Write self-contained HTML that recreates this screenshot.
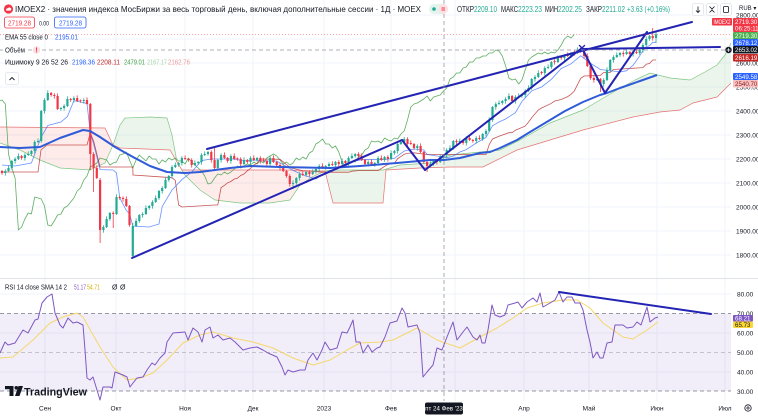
<!DOCTYPE html>
<html><head><meta charset="utf-8"><style>
html,body{margin:0;padding:0;background:#fff;overflow:hidden}
svg{display:block}
text{font-family:"Liberation Sans","DejaVu Sans",sans-serif}
</style></head><body>
<svg xmlns="http://www.w3.org/2000/svg" width="758" height="417" viewBox="0 0 758 417">
<defs><clipPath id="mc"><rect x="0" y="0" width="731" height="278"/></clipPath></defs>
<rect width="758" height="417" fill="#fff"/>
<!-- grid -->
<g stroke="#f0f3fa" stroke-width="1">
<line x1="0" x2="731" y1="15" y2="15"/><line x1="0" x2="731" y1="39" y2="39"/><line x1="0" x2="731" y1="63" y2="63"/><line x1="0" x2="731" y1="87" y2="87"/><line x1="0" x2="731" y1="111" y2="111"/><line x1="0" x2="731" y1="135" y2="135"/><line x1="0" x2="731" y1="159" y2="159"/><line x1="0" x2="731" y1="183" y2="183"/><line x1="0" x2="731" y1="207" y2="207"/><line x1="0" x2="731" y1="231" y2="231"/><line x1="0" x2="731" y1="255" y2="255"/>
<line x1="0" x2="731" y1="294" y2="294"/><line x1="0" x2="731" y1="333" y2="333"/><line x1="0" x2="731" y1="372" y2="372"/>
<line x1="45" x2="45" y1="0" y2="401"/><line x1="116" x2="116" y1="0" y2="401"/><line x1="185" x2="185" y1="0" y2="401"/><line x1="253" x2="253" y1="0" y2="401"/><line x1="324" x2="324" y1="0" y2="401"/><line x1="391" x2="391" y1="0" y2="401"/><line x1="455" x2="455" y1="0" y2="401"/><line x1="524" x2="524" y1="0" y2="401"/><line x1="589" x2="589" y1="0" y2="401"/><line x1="657" x2="657" y1="0" y2="401"/><line x1="725" x2="725" y1="0" y2="401"/>
</g>
<line x1="0" x2="758" y1="278.5" y2="278.5" stroke="#e0e3eb" stroke-width="1"/>

<g clip-path="url(#mc)">
<!-- cloud fills -->
<polygon fill="#f44336" fill-opacity="0.1" points="0,127 105,128 113,145 105,163 90,170 60,168 40,160 20,150 0,143"/>
<polygon fill="#43a047" fill-opacity="0.1" points="113,145 120,125 125,118 150,117 167,118 172,135 177,162 170,150 120,148"/>
<polygon fill="#f44336" fill-opacity="0.1" points="177,162 182,170 290,170 300,171 325,171 312,177 300,185 290,200 270,203 240,203 215,200 200,190 185,175"/>
<polygon fill="#43a047" fill-opacity="0.1" points="325,171 333,170 383,170 400,165 430,163 450,155 480,152 500,150 520,140 550,123 583,110 600,100 617,90 635,80 650,73 670,78 690,80 705,72 717,65 725,55 731,43 731,83 717,97 693,103 680,110 660,112 633,117 583,130 550,140 517,150 483,167 450,167 420,168 386,170 383,203 333,203"/>
<polyline fill="none" stroke="#81c784" stroke-width="0.7" points="0,143 20,150 40,160 60,168 90,170 105,163 113,145 120,125 125,118 150,117 167,118 172,135 177,162 185,175 200,190 215,200 240,203 270,203 290,200 300,185 312,177 325,171 333,170 383,170 400,165 430,163 450,155 480,152 500,150 520,140 550,123 583,110 600,100 617,90 635,80 650,73 670,78 690,80 705,72 717,65 725,55 731,43"/>
<polyline fill="none" stroke="#e57373" stroke-width="0.7" points="0,127 105,128 113,145 120,148 170,150 177,162 182,170 290,170 300,171 325,171 333,203 383,203 386,170 420,168 450,167 483,167 517,150 550,140 583,130 633,117 660,112 680,110 693,103 717,97 731,83"/>
<!-- chikou -->
<polyline fill="none" stroke="#43a047" stroke-width="0.8" stroke-opacity="0.85" stroke-linejoin="round" points="-1.3,101 2,100 5.3,104 8.5,154 11.8,168 15.1,178 18.4,230 21.6,227 24.9,219 28.2,213 31.4,214 34.7,197 38,198 41.2,199 44.5,206 47.8,225 51.1,226 54.3,221 57.6,215 60.9,214 64.1,208 67.4,206 70.7,202 73.9,198 77.2,191 80.5,188 83.8,180 87,176 90.3,167 93.6,165 96.8,163 100.1,158 103.4,159 106.6,160 109.9,165 113.2,163 116.5,162 119.7,155 123,154 126.3,152 129.5,160 132.8,168 136.1,160 139.3,155 142.6,158 145.9,161 149.2,156 152.4,159 155.7,159 159,164 162.2,160 165.5,162 168.8,158 172,160 175.3,158 178.6,161 181.9,161 185.1,164 188.4,158 191.7,162 194.9,165 198.2,168 201.5,171 204.7,176 208,184 211.3,183 214.6,178 217.8,174 221.1,175 224.4,172 227.6,174 230.9,172 234.2,169 237.4,166 240.7,168 244,166 247.3,164 250.5,165 253.8,162 257.1,164 260.3,161 263.6,163 266.9,158 270.1,156 273.4,154 276.7,156 280,160 283.2,164 286.5,162 289.8,165 293,163 296.3,158 299.6,160 302.8,157 306.1,159 309.4,153 312.7,151 315.9,144 319.2,142 322.5,139 325.7,144 329,144 332.3,148 335.5,146 338.8,152 342.1,162 345.4,166 348.6,164 351.9,161 355.2,162 358.4,157 361.7,155 365,150 368.2,148 371.5,141 374.8,142 378.1,141 381.3,143 384.6,138 387.9,140 391.1,141 394.4,138 397.7,139 400.9,134 404.2,131 407.5,120 410.8,107 414,104 417.3,103 420.6,101 423.8,99 427.1,96 430.4,101 433.6,97 436.9,96 440.2,95 443.5,91 446.7,88 450,79 453.3,77 456.5,73 459.8,73 463.1,68 466.3,67 469.6,62 472.9,62 476.2,58 479.4,58 482.7,56 486,56 489.2,53 492.5,53 495.8,50 499,51 502.3,56 505.6,66 508.9,78 512.1,80 515.4,79 518.7,84 521.9,80 525.2,70 528.5,60 531.7,57 535,55 538.3,53 541.6,54 544.8,52 548.1,54 551.4,52 554.6,53 557.9,50 561.2,45 564.4,39 567.7,36 571,38 574.3,34.4"/>
<!-- kijun -->
<polyline fill="none" stroke="#b71c1c" stroke-width="0.8" stroke-opacity="0.75" points="2,172 38,172 41,150 47,145 87,145 90.3,133 93.6,141 100.1,167 132.8,167 133,175 172,177.7 175.3,180.5 178.6,205 181.9,207 214.6,205 217.8,205 221.1,187.5 224.4,185.4 227.6,182.8 230.9,181.5 234.2,179 237.4,178.3 240.7,175.5 244,174 247.3,170.8 250.5,168.5 253.8,165 257.1,163.3 260.3,159 280,159.3 289.8,167.3 293,168.5 302.8,170.7 312.7,171.2 322.5,172.2 348.6,172.2 351.9,171.2 358.4,170.6 378.1,170.6 381.3,168.5 384.6,166.4 387.9,164.5 391.1,163.6 394.4,163.4 397.7,158.6 400.9,156.6 404.2,154.3 407.5,153.4 414,152.8 427.1,154.5 486,154.5 489.2,144.7 492.5,139 499,136.2 508.9,132.7 512.1,132.7 515.4,130.2 525.2,126.1 528.5,122.1 531.7,117.8 538.3,110 541.6,108 551.4,103.3 554.6,101 561.2,99.5 567.7,96.6 571,94.3 574.3,91.1 577.5,84.6 580.8,78.3 584.1,76 600.4,75.3 603.7,72.5 610.2,72.3 613.5,69.5 642.9,67.6 646.2,64.2 649.5,63.5 652.7,60 656,60"/>
<!-- tenkan -->
<polyline fill="none" stroke="#2962ff" stroke-width="0.8" stroke-opacity="0.7" points="2,165 15,166 31.4,163 41.2,137 47.8,125.5 60.9,122 67.4,116.6 73.9,100.6 80.5,102 87,103.5 90.3,133 93.6,144 100.1,169.6 113.2,170 116.5,173 119.7,197.6 126.3,210.5 129.5,213.5 132.8,226 149.2,227 159,224 162.2,206.6 172,190 181.9,179.6 191.7,172 201.5,160.6 211.3,159 234.2,159 244,161 253.8,160 263.6,161 276.7,161 286.5,166.6 296.3,172 306.1,176 315.9,179 325.7,172.4 335.5,168.8 345.4,165.8 355.2,160.8 365,159.4 384.6,159.5 394.4,158.4 404.2,151 414,149 423.8,150 427.1,154.5 436.9,156 446.7,157.7 453.3,156 459.8,152 466.3,149.6 476.2,143 486,137.4 492.5,125.8 499,122 505.6,119 515.4,112.7 521.9,101.5 531.7,90.8 541.6,87 551.4,79.3 561.2,68.5 571,63.8 580.8,55.8 590.6,63.4 600.4,69.5 610.2,70.6 620,72 626.6,70.7 629.8,68 633.1,65.2 636.4,60.6 639.7,55.8 642.9,50.6 646.2,46.6 649.5,45.8 652.7,42.3 656,42.3"/>

<!-- candles: green -->
<path fill="none" stroke="#22ab94" stroke-width="0.8" d="M5.3 169.2V175.6M8.5 165.4V172M11.8 160V169.8M15.1 157.2V163.6M18.4 153.4V160M24.9 153.2V160.6M28.2 151.4V156M31.4 150V155.8M34.7 140.2V153.6M38 138.4V143M41.2 110V142.8M44.5 98.2V113.6M47.8 90.4V101M60.9 107V110.8M64.1 104.2V110.6M67.4 96.4V107M73.9 96.2V102.6M83.8 98.2V103.6M103.4 225.2V232.6M106.6 216.4V228M109.9 212V220.8M116.5 194.4V215M132.8 223V258M136.1 218.4V227M139.3 214V222.8M142.6 212.2V217.6M145.9 205.4V215M149.2 205V209.8M152.4 200.2V208.6M155.7 195.4V203M159 190V199.8M162.2 186.2V193.6M165.5 177.4V189M168.8 175V181.8M172 165.2V178.6M175.3 162.4V168M178.6 162V166.8M181.9 156.2V165.6M194.9 160.4V166M198.2 161V164.8M201.5 153.2V164.6M204.7 151.4V156M208 151V155.8M217.8 159V169.8M221.1 153.2V162.6M230.9 154.2V163.6M244 157.4V165M250.5 156.2V164.6M257.1 157V161.8M270.1 156.2V166.6M293 180.4V189M296.3 177V184.8M299.6 172.2V180.6M306.1 171V176.8M312.7 169.4V175M315.9 168V173.8M319.2 164.2V171.6M325.7 165V169.8M329 162.2V168.6M335.5 161V166.8M342.1 158.4V165M348.6 156.2V165.6M351.9 153.4V159M355.2 153V157.8M368.2 160.2V166.6M374.8 162V166.8M378.1 156.2V165.6M384.6 156V161.8M391.1 150.4V160M394.4 150V154.8M397.7 142.2V153.6M400.9 139.4V145M404.2 137V143.8M417.3 144.2V150.6M430.4 161.4V167M433.6 160V165.8M440.2 154.4V163M443.5 154V158.8M446.7 148.2V157.6M450 145.4V151M453.3 140V149.8M459.8 138.4V143M466.3 136.2V145.6M476.2 136.2V143.6M482.7 133V140.8M486 129.2V136.6M489.2 117.4V132M492.5 106V121.8M495.8 102.2V109.6M499 100.4V105M502.3 100V104.8M505.6 97.2V103.6M508.9 93.4V100M515.4 95.2V103.6M518.7 93.4V98M521.9 94V97.8M525.2 89.2V97.6M528.5 85.4V92M531.7 78V89.8M535 75.2V81.6M538.3 70.4V78M544.8 66.2V75.6M548.1 64.4V69M551.4 61V68.8M557.9 55.4V63M564.4 54.2V60.6M571 52V57.8M577.5 47.4V54M597.1 76.4V81M603.7 78.2V86.6M607 67.4V81M610.2 59V71.8M613.5 55.2V62.6M616.8 52.4V58M620 52V56.8M626.6 49.4V55M633.1 50.2V56.6M639.7 49V54.8M642.9 43.2V52.6M646.2 36.4V46M649.5 35V40.8M656 31.8V43"/>
<path fill="#22ab94" d="M4.2 171h2.2V173h-2.2zM7.4 168h2.2V171h-2.2zM10.7 161h2.2V168h-2.2zM14 159h2.2V161h-2.2zM17.3 156h2.2V159h-2.2zM23.8 155h2.2V158h-2.2zM27.1 154h2.2V155h-2.2zM30.3 151h2.2V154h-2.2zM33.6 142h2.2V151h-2.2zM36.9 141h2.2V142h-2.2zM40.1 111h2.2V141h-2.2zM43.4 100h2.2V111h-2.2zM46.7 93h2.2V100h-2.2zM59.8 108h2.2V109h-2.2zM63 106h2.2V108h-2.2zM66.3 99h2.2V106h-2.2zM72.8 98h2.2V100h-2.2zM82.7 100h2.2V101h-2.2zM102.3 227h2.2V230h-2.2zM105.5 219h2.2V227h-2.2zM108.8 213h2.2V219h-2.2zM115.4 197h2.2V214h-2.2zM131.7 226h2.2V256h-2.2zM135 221h2.2V226h-2.2zM138.2 215h2.2V221h-2.2zM141.5 214h2.2V215h-2.2zM144.8 208h2.2V214h-2.2zM148.1 206h2.2V208h-2.2zM151.3 202h2.2V206h-2.2zM154.6 198h2.2V202h-2.2zM157.9 191h2.2V198h-2.2zM161.1 188h2.2V191h-2.2zM164.4 180h2.2V188h-2.2zM167.7 176h2.2V180h-2.2zM170.9 167h2.2V176h-2.2zM174.2 165h2.2V167h-2.2zM177.5 163h2.2V165h-2.2zM180.8 158h2.2V163h-2.2zM193.8 163h2.2V165h-2.2zM197.1 162h2.2V163h-2.2zM200.4 155h2.2V162h-2.2zM203.6 154h2.2V155h-2.2zM206.9 152h2.2V154h-2.2zM216.7 160h2.2V168h-2.2zM220 155h2.2V160h-2.2zM229.8 156h2.2V161h-2.2zM242.9 160h2.2V164h-2.2zM249.4 158h2.2V162h-2.2zM256 158h2.2V160h-2.2zM269 158h2.2V164h-2.2zM291.9 183h2.2V184h-2.2zM295.2 178h2.2V183h-2.2zM298.5 174h2.2V178h-2.2zM305 172h2.2V175h-2.2zM311.6 172h2.2V174h-2.2zM314.8 169h2.2V172h-2.2zM318.1 166h2.2V169h-2.2zM324.6 166h2.2V168h-2.2zM327.9 164h2.2V166h-2.2zM334.4 162h2.2V165h-2.2zM341 161h2.2V164h-2.2zM347.5 158h2.2V163h-2.2zM350.8 156h2.2V158h-2.2zM354.1 154h2.2V156h-2.2zM367.1 162h2.2V164h-2.2zM373.7 163h2.2V165h-2.2zM377 158h2.2V163h-2.2zM383.5 157h2.2V160h-2.2zM390 153h2.2V159h-2.2zM393.3 151h2.2V153h-2.2zM396.6 144h2.2V151h-2.2zM399.8 142h2.2V144h-2.2zM403.1 139h2.2V142h-2.2zM416.2 146h2.2V148h-2.2zM429.3 164h2.2V166h-2.2zM432.5 161h2.2V164h-2.2zM439.1 157h2.2V162h-2.2zM442.4 155h2.2V157h-2.2zM445.6 150h2.2V155h-2.2zM448.9 148h2.2V150h-2.2zM452.2 141h2.2V148h-2.2zM458.7 141h2.2V142h-2.2zM465.2 138h2.2V143h-2.2zM475.1 138h2.2V141h-2.2zM481.6 134h2.2V139h-2.2zM484.9 131h2.2V134h-2.2zM488.1 120h2.2V131h-2.2zM491.4 107h2.2V120h-2.2zM494.7 104h2.2V107h-2.2zM497.9 103h2.2V104h-2.2zM501.2 101h2.2V103h-2.2zM504.5 99h2.2V101h-2.2zM507.8 96h2.2V99h-2.2zM514.3 97h2.2V101h-2.2zM517.6 96h2.2V97h-2.2zM520.8 95h2.2V96h-2.2zM524.1 91h2.2V95h-2.2zM527.4 88h2.2V91h-2.2zM530.6 79h2.2V88h-2.2zM533.9 77h2.2V79h-2.2zM537.2 73h2.2V77h-2.2zM543.7 68h2.2V73h-2.2zM547 67h2.2V68h-2.2zM550.3 62h2.2V67h-2.2zM556.8 58h2.2V62h-2.2zM563.3 56h2.2V58h-2.2zM569.9 53h2.2V56h-2.2zM576.4 50h2.2V53h-2.2zM596 79h2.2V80h-2.2zM602.6 80h2.2V84h-2.2zM605.9 70h2.2V80h-2.2zM609.1 60h2.2V70h-2.2zM612.4 57h2.2V60h-2.2zM615.7 55h2.2V57h-2.2zM618.9 53h2.2V55h-2.2zM625.5 52h2.2V54h-2.2zM632 52h2.2V54h-2.2zM638.6 50h2.2V53h-2.2zM641.8 45h2.2V50h-2.2zM645.1 39h2.2V45h-2.2zM648.4 36h2.2V39h-2.2zM654.9 34.4h2.2V38h-2.2z"/>
<!-- candles: red -->
<path fill="none" stroke="#f23645" stroke-width="0.8" d="M2 170V174.8M21.6 155V159.8M51.1 92V96.8M54.3 93.2V98.6M57.6 93.4V110M70.7 98V101.8M77.2 95.4V102M80.5 99.5V102.8M87 97.4V105M90.3 103V170M93.6 152.2V192M96.8 165.4V179M100.1 178V243M113.2 211.2V228M119.7 196V199.8M123 196.2V201.6M126.3 196.4V207M129.5 205V226.8M185.1 155.4V160M188.4 158V161.8M191.7 158.2V167.6M211.3 150.2V162.6M214.6 148V169M224.4 152.4V159M227.6 157V162.8M234.2 153.4V160M237.4 157.5V160.8M240.7 157.2V166.6M247.3 159V163.8M253.8 155.4V161M260.3 156.2V163.6M263.6 157.9V162M266.9 160V165.8M273.4 155.4V163M276.7 161V166.8M280 163.2V170.6M283.2 165.4V172M286.5 170V177.8M289.8 174.2V186.6M302.8 171.4V176M309.4 170.2V176.6M322.5 163.4V169M332.3 161.4V166M338.8 160.2V166.6M345.4 160V164.8M358.4 152.2V158.6M361.7 153.4V161M365 159V165.8M371.5 159.4V166M381.3 155.4V161M387.9 155.2V161.6M407.5 137.2V146.6M410.8 140.4V145M414 143V149.8M420.6 143.4V153M423.8 151V163.8M427.1 160.2V172M436.9 159.2V164.6M456.5 139.2V144.6M463.1 140V144.8M469.6 135.4V141M472.9 139V142.8M479.4 135.4V140M512.1 95V102.8M541.6 71V74.8M554.6 59.2V64.6M561.2 56V59.8M567.7 52.4V57M574.3 50.2V55.6M580.8 47V52.8M584.1 49.2V58.6M587.3 53.4V67M590.6 65V79.8M593.9 76.2V82.6M600.4 78V92M623.3 51.2V56.6M629.8 51V55.8M636.4 49.4V54M652.7 28V40.6"/>
<path fill="#f23645" d="M0.9 171h2.2V173h-2.2zM20.5 156h2.2V158h-2.2zM50 93h2.2V95h-2.2zM53.2 95h2.2V96h-2.2zM56.5 96h2.2V109h-2.2zM69.6 99h2.2V100h-2.2zM76.1 98h2.2V101h-2.2zM79.4 100.2h2.2V101h-2.2zM85.9 100h2.2V104h-2.2zM89.2 104h2.2V154h-2.2zM92.5 154h2.2V168h-2.2zM95.7 168h2.2V178h-2.2zM99 180h2.2V230h-2.2zM112.1 213h2.2V214h-2.2zM118.6 197h2.2V198h-2.2zM121.9 198h2.2V199h-2.2zM125.2 199h2.2V206h-2.2zM128.4 206h2.2V225h-2.2zM184 158h2.2V159h-2.2zM187.3 159h2.2V160h-2.2zM190.6 160h2.2V165h-2.2zM210.2 152h2.2V160h-2.2zM213.5 160h2.2V168h-2.2zM223.3 155h2.2V158h-2.2zM226.5 158h2.2V161h-2.2zM233.1 156h2.2V159h-2.2zM236.3 158.2h2.2V159h-2.2zM239.6 159h2.2V164h-2.2zM246.2 160h2.2V162h-2.2zM252.7 158h2.2V160h-2.2zM259.2 158h2.2V161h-2.2zM262.5 160.2h2.2V161h-2.2zM265.8 161h2.2V164h-2.2zM272.3 158h2.2V162h-2.2zM275.6 162h2.2V165h-2.2zM278.9 165h2.2V168h-2.2zM282.1 168h2.2V171h-2.2zM285.4 171h2.2V176h-2.2zM288.7 176h2.2V184h-2.2zM301.7 174h2.2V175h-2.2zM308.3 172h2.2V174h-2.2zM321.4 166h2.2V168h-2.2zM331.2 164h2.2V165h-2.2zM337.7 162h2.2V164h-2.2zM344.3 161h2.2V163h-2.2zM357.3 154h2.2V156h-2.2zM360.6 156h2.2V160h-2.2zM363.9 160h2.2V164h-2.2zM370.4 162h2.2V165h-2.2zM380.2 158h2.2V160h-2.2zM386.8 157h2.2V159h-2.2zM406.4 139h2.2V144h-2.2zM409.7 143h2.2V144h-2.2zM412.9 144h2.2V148h-2.2zM419.5 146h2.2V152h-2.2zM422.7 152h2.2V162h-2.2zM426 162h2.2V166h-2.2zM435.8 161h2.2V162h-2.2zM455.4 141h2.2V142h-2.2zM462 141h2.2V143h-2.2zM468.5 138h2.2V140h-2.2zM471.8 140h2.2V141h-2.2zM478.3 138h2.2V139h-2.2zM511 96h2.2V101h-2.2zM540.5 72h2.2V73h-2.2zM553.5 61h2.2V62h-2.2zM560.1 57h2.2V58h-2.2zM566.6 55h2.2V56h-2.2zM573.2 52h2.2V53h-2.2zM579.7 50h2.2V51h-2.2zM583 51h2.2V56h-2.2zM586.2 56h2.2V66h-2.2zM589.5 66h2.2V78h-2.2zM592.8 78h2.2V80h-2.2zM599.3 79h2.2V84h-2.2zM622.2 53h2.2V54h-2.2zM628.7 52h2.2V54h-2.2zM635.3 52h2.2V53h-2.2zM651.6 36h2.2V38h-2.2z"/>
<!-- EMA 55 -->
<polyline fill="none" stroke="#2f5bd8" stroke-width="2" stroke-linejoin="round" points="0,147 20,148 40,147 60,138 83,130 90,131 100,137 115,147 133,157 150,166 167,172 185,173 200,172 230,168 250,166 280,167 330,168 360,166 397,163 430,160 444,160 460,158 480,153 490,152 500,148 517,140 530,132 550,120 565,111 583,102 600,95 607,93 620,88 640,81 657,75"/>
</g>

<!-- trendlines -->
<g stroke="#2424b4" stroke-width="2" fill="none" stroke-linecap="round">
<line x1="132" y1="258" x2="402" y2="140"/>
<line x1="402" y1="140" x2="425" y2="170"/>
<line x1="425" y1="170" x2="582" y2="48"/>
<line x1="582" y1="48" x2="605" y2="93"/>
<line x1="605" y1="93" x2="647" y2="32"/>
<line x1="207" y1="149" x2="692" y2="22"/>
<line x1="582" y1="49" x2="720" y2="47"/>
<path d="M579.5,45.5 L584.5,50.5 M584.5,45.5 L579.5,50.5" stroke-width="1.4"/>
</g>

<!-- last price & crosshair -->
<line x1="0" x2="731" y1="34.5" y2="34.5" stroke="#f23645" stroke-width="0.8" stroke-dasharray="1 2" opacity="0.6"/>
<line x1="0" x2="731" y1="50" y2="50" stroke="#9598a1" stroke-width="0.8" stroke-dasharray="4 3"/>
<line x1="444" x2="444" y1="0" y2="401" stroke="#9598a1" stroke-width="0.8" stroke-dasharray="4 3"/>

<!-- RSI pane -->
<rect x="0" y="313.5" width="731" height="77.5" fill="#7e57c2" fill-opacity="0.1"/>
<line x1="0" x2="731" y1="313.5" y2="313.5" stroke="#787b86" stroke-width="0.8" stroke-dasharray="4 3"/>
<line x1="0" x2="731" y1="352.5" y2="352.5" stroke="#787b86" stroke-width="0.8" stroke-dasharray="4 3" opacity="0.5"/>
<line x1="0" x2="731" y1="391" y2="391" stroke="#787b86" stroke-width="0.8" stroke-dasharray="4 3"/>
<polyline fill="none" stroke="#f5d76e" stroke-width="1" stroke-linejoin="round" points="0,358 13,357 33,340 50,323 63,317 77,313 83,317 92,333 100,347 113,367 127,380 140,378 153,373 167,360 183,343 200,335 213,332 233,338 253,342 273,348 293,358 313,365 330,360 347,350 360,343 380,342 393,340 417,328 437,340 460,348 480,337 497,328 513,318 527,308 543,303 563,300 577,300 590,308 603,323 623,337 633,339 647,330 658,322"/>
<polyline fill="none" stroke="#7e57c2" stroke-width="1" stroke-linejoin="round" points="0,353 5,342 8,345 15,343 23,330 28,333 35,320 38,319 42,303 47,297 52,294 55,313 60,325 63,328 68,318 73,323 77,322 83,325 85,350 87,378 90,380 93,377 97,390 100,400 103,387 110,387 112,388 115,372 123,375 127,377 130,387 133,383 137,378 143,377 147,370 152,363 155,365 160,358 165,353 167,342 173,333 185,332 188,340 193,328 198,332 202,342 205,330 210,327 213,338 218,335 223,340 230,338 235,342 243,350 250,348 257,347 263,350 268,353 277,357 282,367 285,375 288,370 293,372 300,370 305,370 308,360 313,353 317,360 322,350 325,342 330,350 337,348 342,332 347,333 350,327 353,320 356,342 360,342 363,353 368,345 372,352 377,348 380,347 385,337 390,323 397,321 402,308 405,313 408,327 417,325 420,333 423,377 427,372 433,365 437,348 442,350 447,337 453,322 457,340 463,332 467,327 473,337 477,340 480,335 482,343 485,343 488,330 492,305 495,315 500,317 505,315 508,305 515,303 518,302 522,308 527,302 533,298 537,302 540,293 543,307 550,303 555,300 559,292 563,302 567,297 572,297 575,303 580,303 583,310 587,330 590,342 593,358 597,352 600,358 603,358 607,343 612,342 615,325 623,325 627,328 633,327 637,322 641,325 647,307 650,322 655,318 658,317"/>
<line x1="559" y1="292" x2="711" y2="314" stroke="#2424b4" stroke-width="2" stroke-linecap="round"/>

<!-- header -->
<circle cx="8.5" cy="9" r="4.6" fill="#f23645"/>
<path d="M6,10.3 Q6,8.2 8,8.3 Q8.7,6.8 10.2,7.7 Q11.5,8 11.2,9.5 Q11.4,10.6 10,10.6 L6.8,10.6 Z" fill="#fff"/>
<text x="15" y="12" font-size="8.3" fill="#131722" textLength="406" lengthAdjust="spacingAndGlyphs">IMOEX2 · значения индекса МосБиржи за весь торговый день, включая дополнительные сессии · 1Д · MOEX</text>
<rect x="429" y="4" width="19" height="10" rx="5" fill="#e3f4ef"/>
<rect x="438.5" y="4" width="9.5" height="10" rx="5" fill="#fde1e3"/>
<circle cx="434" cy="9" r="1.8" fill="#22ab94"/>
<path d="M441.5,8 h3.5 M441.5,10 h3.5" stroke="#f23645" stroke-width="0.9"/>
<g font-size="8">
<text x="457" y="12" fill="#131722" textLength="17" lengthAdjust="spacingAndGlyphs">ОТКР</text>
<text x="474" y="12" fill="#22ab94" textLength="23" lengthAdjust="spacingAndGlyphs">2209.10</text>
<text x="501" y="12" fill="#131722" textLength="17" lengthAdjust="spacingAndGlyphs">МАКС</text>
<text x="518" y="12" fill="#22ab94" textLength="24" lengthAdjust="spacingAndGlyphs">2223.23</text>
<text x="545" y="12" fill="#131722" textLength="13" lengthAdjust="spacingAndGlyphs">МИН</text>
<text x="558" y="12" fill="#22ab94" textLength="24" lengthAdjust="spacingAndGlyphs">2202.25</text>
<text x="586" y="12" fill="#131722" textLength="16" lengthAdjust="spacingAndGlyphs">ЗАКР</text>
<text x="602" y="12" fill="#22ab94" textLength="23" lengthAdjust="spacingAndGlyphs">2211.02</text>
<text x="627" y="12" fill="#22ab94" textLength="43" lengthAdjust="spacingAndGlyphs">+3.63 (+0.16%)</text>
</g>
<g fill="#fff" stroke="#e0e3eb" stroke-width="0.8">
<rect x="692.5" y="3.5" width="11" height="12" rx="2"/>
<rect x="706.5" y="3.5" width="11" height="12" rx="2"/>
<rect x="720.5" y="3.5" width="11" height="12" rx="2"/>
</g>
<g stroke="#131722" stroke-width="0.8" fill="none">
<path d="M698,6.5 v6 M696,10.5 l2,2 l2,-2"/>
<path d="M709.5,6.5 l2.5,2.5 l2.5,-2.5 M709.5,12.5 l2.5,-2.5 l2.5,2.5"/>
<rect x="723.5" y="6.5" width="5" height="6" rx="1"/>
</g>
<text x="739" y="10" font-size="6" fill="#131722">RUB ▾</text>

<rect x="4.5" y="17" width="30" height="11" rx="2" fill="#fff" stroke="#f23645" stroke-width="0.8"/>
<text x="8" y="25.3" font-size="7.3" fill="#f23645" textLength="23" lengthAdjust="spacingAndGlyphs">2719.28</text>
<text x="39" y="25.3" font-size="6.5" fill="#131722" textLength="10" lengthAdjust="spacingAndGlyphs">0.00</text>
<rect x="54.5" y="17" width="31.5" height="11" rx="2" fill="#fff" stroke="#2962ff" stroke-width="0.8"/>
<text x="59" y="25.3" font-size="7.3" fill="#2962ff" textLength="23" lengthAdjust="spacingAndGlyphs">2719.28</text>

<text x="5" y="39.5" font-size="7" fill="#131722" textLength="43" lengthAdjust="spacingAndGlyphs">EMA 55 close 0</text>
<text x="55" y="39.5" font-size="7" fill="#2962ff" textLength="23" lengthAdjust="spacingAndGlyphs">2195.01</text>
<rect x="3" y="45" width="25" height="10" fill="#fff"/>
<text x="5" y="52.5" font-size="7" fill="#131722" textLength="20" lengthAdjust="spacingAndGlyphs">Объём</text>
<circle cx="36.5" cy="50" r="3.8" fill="#fde0e2"/>
<text x="36.5" y="52.6" font-size="7" font-weight="bold" fill="#f23645" text-anchor="middle">!</text>
<text x="5" y="64.5" font-size="7" fill="#131722" textLength="63" lengthAdjust="spacingAndGlyphs">Ишимоку 9 26 52 26</text>
<text x="72" y="64.5" font-size="7" fill="#2962ff" textLength="23" lengthAdjust="spacingAndGlyphs">2198.36</text>
<text x="97" y="64.5" font-size="7" fill="#c62828" textLength="23" lengthAdjust="spacingAndGlyphs">2208.11</text>
<text x="124" y="64.5" font-size="7" fill="#43a047" textLength="21" lengthAdjust="spacingAndGlyphs">2479.01</text>
<text x="147" y="64.5" font-size="7" fill="#a5d6a7" textLength="20" lengthAdjust="spacingAndGlyphs">2167.17</text>
<text x="168" y="64.5" font-size="7" fill="#ef9a9a" textLength="22" lengthAdjust="spacingAndGlyphs">2162.76</text>
<rect x="5.5" y="72.5" width="13" height="12" rx="2" fill="#fff" stroke="#e0e3eb" stroke-width="0.8"/>
<path d="M9.5,80 L12,77.5 L14.5,80" stroke="#131722" stroke-width="0.9" fill="none"/>

<!-- RSI legend -->
<text x="5" y="289.5" font-size="7" fill="#131722" textLength="62" lengthAdjust="spacingAndGlyphs">RSI 14 close SMA 14 2</text>
<text x="74" y="289.5" font-size="7" fill="#7e57c2" textLength="12" lengthAdjust="spacingAndGlyphs">51.17</text>
<text x="87" y="289.5" font-size="7" fill="#d4b106" textLength="13" lengthAdjust="spacingAndGlyphs">54.71</text>
<text x="112" y="289.5" font-size="7" fill="#131722">Ø</text>
<text x="120" y="289.5" font-size="7" fill="#131722">Ø</text>

<!-- TradingView logo -->
<g fill="#131722">
<rect x="5" y="386" width="8.5" height="3.2"/>
<rect x="9.5" y="386" width="4" height="10"/>
<circle cx="16.3" cy="387.8" r="1.8"/>
<polygon points="18.5,386 23,386 19.5,396 15,396"/>
</g>
<text x="24" y="395.5" font-size="11.2" font-weight="bold" fill="#131722" textLength="63" lengthAdjust="spacingAndGlyphs">TradingView</text>

<!-- price axis -->
<g font-size="6.5" fill="#131722">
<text x="736" y="17.3">2800.00</text><text x="736" y="41.3">2700.00</text><text x="736" y="65.3">2600.00</text><text x="736" y="89.3">2500.00</text><text x="736" y="113.3">2400.00</text><text x="736" y="137.3">2300.00</text><text x="736" y="161.3">2200.00</text><text x="736" y="185.3">2100.00</text><text x="736" y="209.3">2000.00</text><text x="736" y="233.3">1900.00</text><text x="736" y="257.3">1800.00</text>
<text x="737" y="296.3">80.00</text><text x="737" y="315.8">70.00</text><text x="737" y="335.3">60.00</text><text x="737" y="354.8">50.00</text><text x="737" y="374.3">40.00</text><text x="737" y="393.8">30.00</text>
</g>
<!-- badges -->
<g font-size="6.2">
<rect x="712" y="18" width="20" height="7.5" rx="1" fill="#f23645"/><text x="713.5" y="24" fill="#fff" textLength="17" lengthAdjust="spacingAndGlyphs">IMOEX2</text>
<rect x="733" y="18" width="25" height="14" rx="1" fill="#f23645"/><text x="735" y="24" fill="#fff">2719.30</text><text x="735" y="30.5" fill="#fff">06:25:11</text>
<rect x="733" y="32" width="25" height="7" rx="1" fill="#4caf50"/><text x="735" y="38" fill="#fff">2719.30</text>
<rect x="733" y="39" width="25" height="7" rx="1" fill="#2962ff"/><text x="735" y="45" fill="#fff">2678.12</text>
<rect x="733" y="46" width="25" height="7.5" rx="1" fill="#131722"/><text x="735" y="52.2" fill="#fff">2653.02</text>
<rect x="733" y="54" width="25" height="7.5" rx="1" fill="#c62828"/><text x="735" y="60" fill="#fff">2616.19</text>
<rect x="733" y="73" width="25" height="7" rx="1" fill="#2962ff"/><text x="735" y="79" fill="#fff">2549.58</text>
<rect x="733" y="80" width="25" height="7.5" rx="1" fill="#f7c1c1"/><text x="735" y="86" fill="#8b1c1c">2540.70</text>
<rect x="733" y="315" width="20" height="6.5" rx="1" fill="#7e57c2"/><text x="735" y="320.6" fill="#fff">68.21</text>
<rect x="733" y="321.5" width="20" height="6.5" rx="1" fill="#fdd835"/><text x="735" y="327" fill="#131722">65.73</text>
</g>
<circle cx="728.5" cy="50" r="3.4" fill="#131722" stroke="#d1d4dc" stroke-width="0.6"/>
<path d="M726.6,50 h3.8 M728.5,48.1 v3.8" stroke="#fff" stroke-width="0.7"/>

<!-- time axis -->
<g font-size="6.5" fill="#131722" text-anchor="middle">
<text x="45" y="410.5">Сен</text><text x="116" y="410.5">Окт</text><text x="185" y="410.5">Ноя</text><text x="253" y="410.5">Дек</text><text x="324" y="410.5">2023</text><text x="391" y="410.5">Фев</text><text x="524" y="410.5">Апр</text><text x="589" y="410.5">Май</text><text x="657" y="410.5">Июн</text><text x="725" y="410.5">Июл</text>
</g>
<rect x="425" y="402.5" width="38" height="12" rx="2" fill="#131722"/>
<text x="444" y="410.7" font-size="6.2" fill="#fff" text-anchor="middle">пт 24 Фев '23</text>
<circle cx="748" cy="408" r="3.2" fill="none" stroke="#131722" stroke-width="0.8"/>
<circle cx="748" cy="408" r="1.1" fill="none" stroke="#131722" stroke-width="0.7"/>
</svg>
</body></html>
